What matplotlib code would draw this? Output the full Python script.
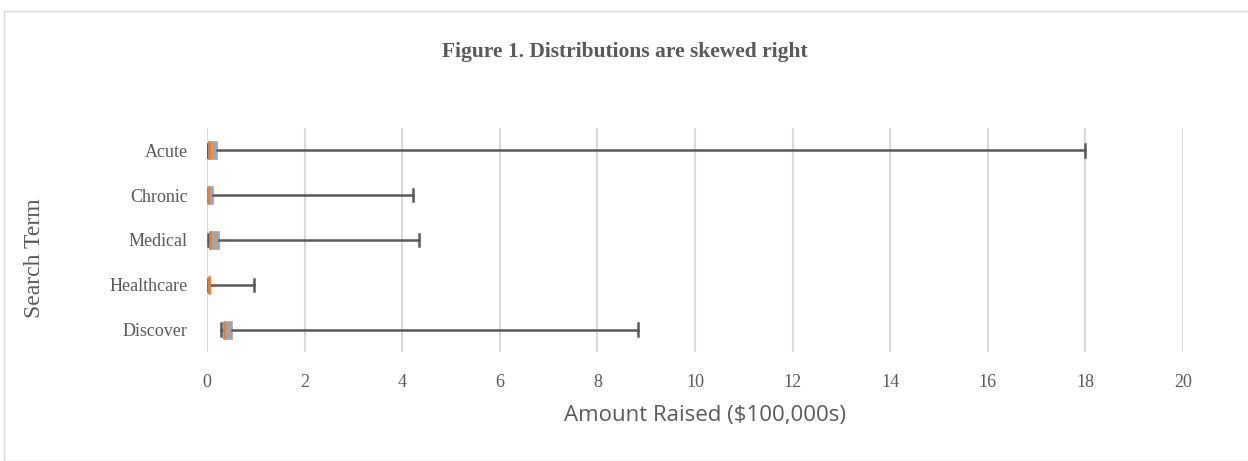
import matplotlib
matplotlib.use("Agg")
import matplotlib.pyplot as plt
from matplotlib.patches import Rectangle

# ---- data (values in $100,000s) ----
categories = ["Acute", "Chronic", "Medical", "Healthcare", "Discover"]
whisker_low = [0.00, 0.00, 0.03, 0.03, 0.28]
q1_values = [0.03, 0.03, 0.05, 0.035, 0.34]
medians = [0.05, 0.03, 0.06, 0.04, 0.35]
q3_values = [0.20, 0.13, 0.25, 0.06, 0.52]
whisker_high = [18.0, 4.22, 4.34, 0.97, 8.83]
x_ticks = [0, 2, 4, 6, 8, 10, 12, 14, 16, 18, 20]

title = "Figure 1. Distributions are skewed right"
x_label = "Amount Raised ($100,000s)"
y_label = "Search Term"

W, H, DPI = 1248, 461, 100
fig = plt.figure(figsize=(W / DPI, H / DPI), dpi=DPI)
fig.patch.set_facecolor("white")

# chart border
fig.patches.append(Rectangle((4 / W, 0), 1.0, 1 - 11 / H, transform=fig.transFigure,
                             fill=False, edgecolor="#d9d9d9", linewidth=1.0))

ax = fig.add_axes([207 / W, 1 - 352 / H, (1183 - 207) / W, (352 - 128) / H])

n = len(categories)
positions = list(range(n))[::-1]  # Acute on top
stats = []
for i, c in enumerate(categories):
    stats.append(dict(label=c, whislo=whisker_low[i], q1=q1_values[i], med=medians[i],
                      q3=q3_values[i], whishi=whisker_high[i], fliers=[]))

ax.bxp(stats, positions=positions, orientation="horizontal", widths=0.40,
       patch_artist=True, showfliers=False,
       boxprops=dict(facecolor="#a5a5a5", edgecolor="#a5a5a5", linewidth=0.5),
       medianprops=dict(color="#ed7d31", linewidth=2),
       whiskerprops=dict(color="#595959", linewidth=1.8),
       capprops=dict(color="#595959", linewidth=1.8),
       capwidths=0.28)

ax.set_xlim(0, 20)
ax.set_ylim(-0.5, n - 0.5)
ax.set_xticks(x_ticks)
ax.set_xticklabels([str(t) for t in x_ticks])
ax.set_yticks(positions)
ax.set_yticklabels(categories)

ax.grid(axis="x", color="#d9d9d9", linewidth=1.5)
ax.set_axisbelow(True)
for s in ax.spines.values():
    s.set_visible(False)
ax.tick_params(length=0)
ax.tick_params(axis="x", pad=16, labelsize=13, labelcolor="#595959")
ax.tick_params(axis="y", pad=14, labelsize=13, labelcolor="#595959")
for lab in ax.get_xticklabels() + ax.get_yticklabels():
    lab.set_fontfamily("Liberation Serif")

ax.set_xlabel(x_label, fontsize=16, color="#595959", family="Open Sans")
ax.xaxis.set_label_coords(0.51, -(415 - 352) / (352 - 128), transform=ax.transAxes)
ax.xaxis.label.set_va("center")
ax.set_ylabel(y_label, fontsize=17, color="#595959", family="Liberation Serif")
ax.yaxis.set_label_coords(-(207 - 35) / (1183 - 207), (352 - 258) / (352 - 128),
                          transform=ax.transAxes)
ax.yaxis.label.set_va("center")

fig.text(625 / W, 1 - 52 / H, title, ha="center", va="center", fontsize=15.5,
         fontweight="bold", color="#595959", family="Liberation Serif")

fig.savefig("out.png", dpi=DPI)
